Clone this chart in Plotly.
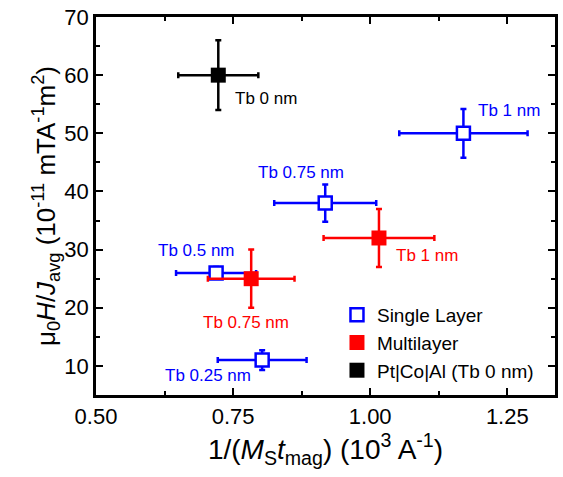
import plotly.graph_objects as go

# Single Layer (blue, open squares)
single_x = [0.803, 0.719, 0.918, 1.170]
single_y = [11.0, 26.0, 38.0, 50.0]
single_xerr = [0.081, 0.073, 0.093, 0.117]
single_yerr = [1.7, 1.0, 3.2, 4.2]
single_labels = ["Tb 0.25 nm", "Tb 0.5 nm", "Tb 0.75 nm", "Tb 1 nm"]

# Multilayer (red, filled squares)
multi_x = [0.783, 1.016]
multi_y = [25.0, 32.0]
multi_xerr = [0.079, 0.101]
multi_yerr = [5.0, 5.0]
multi_labels = ["Tb 0.75 nm", "Tb 1 nm"]

# Pt|Co|Al (black)
ref_x = [0.723]
ref_y = [60.0]
ref_xerr = [0.073]
ref_yerr = [6.0]
ref_labels = ["Tb 0 nm"]

series_names = ["Single Layer", "Multilayer", "Pt|Co|Al (Tb 0 nm)"]
x_ticks = [0.50, 0.75, 1.00, 1.25]
y_ticks = [10, 20, 30, 40, 50, 60, 70]

BLUE = "#0000ff"
RED = "#ff0000"
BLACK = "#000000"
FONT = "Liberation Sans"

fig = go.Figure()

def add_series(xs, ys, xe, ye, color, name, filled):
    fig.add_trace(go.Scatter(
        x=xs, y=ys, mode="markers", name=name,
        marker=dict(symbol="square", size=15 if filled else 13,
                    color=color if filled else "white",
                    line=dict(color=color, width=0 if filled else 2.5)),
        error_x=dict(type="data", array=xe, visible=True, color=color, thickness=2.5, width=3),
        error_y=dict(type="data", array=ye, visible=True, color=color, thickness=2.5, width=3),
    ))

add_series(single_x, single_y, single_xerr, single_yerr, BLUE, series_names[0], False)
add_series(multi_x, multi_y, multi_xerr, multi_yerr, RED, series_names[1], True)
add_series(ref_x, ref_y, ref_xerr, ref_yerr, BLACK, series_names[2], True)

# point labels: offsets in pixels (xshift, yshift)
single_off = [(-54, -15), (-20, 22), (-24, 31), (46, 23)]
multi_off = [(-5, -44), (48, -18)]
ref_off = [(48, -23)]

anns = []
for xs, ys, labs, offs, col in [(single_x, single_y, single_labels, single_off, BLUE),
                                (multi_x, multi_y, multi_labels, multi_off, RED),
                                (ref_x, ref_y, ref_labels, ref_off, BLACK)]:
    for x, y, t, (dx, dy) in zip(xs, ys, labs, offs):
        anns.append(dict(x=x, y=y, xref="x", yref="y", text=t, showarrow=False,
                         xshift=dx, yshift=dy, font=dict(size=17, color=col, family=FONT)))

fig.update_layout(
    width=563, height=477,
    margin=dict(l=96, r=5, t=13, b=82),
    paper_bgcolor="white", plot_bgcolor="white",
    font=dict(family=FONT, color="black"),
    annotations=anns,
    showlegend=True,
    legend=dict(x=0.525, y=0.262, xanchor="left", yanchor="top",
                bgcolor="rgba(0,0,0,0)", font=dict(size=19, family=FONT),
                itemsizing="trace", tracegroupgap=0),
    xaxis=dict(range=[0.5, 1.337], tickvals=x_ticks, ticktext=["%.2f" % v for v in x_ticks],
               ticks="inside", ticklen=7, tickwidth=2, tickcolor="black",
               minor=dict(dtick=0.125, ticks="inside", ticklen=4, tickwidth=2, tickcolor="black"),
               showline=True, linewidth=2.5, linecolor="black", mirror="ticks",
               showgrid=False, zeroline=False, tickfont=dict(size=22, family=FONT),
               title=dict(text="1/(<i>M</i><sub>S</sub><i>t</i><sub>mag</sub>) (10<sup>3</sup> A<sup>-1</sup>)",
                          font=dict(size=28, family=FONT), standoff=6)),
    yaxis=dict(range=[5, 70], tickvals=y_ticks,
               ticks="inside", ticklen=7, tickwidth=2, tickcolor="black",
               minor=dict(dtick=5, ticks="inside", ticklen=4, tickwidth=2, tickcolor="black"),
               showline=True, linewidth=2.5, linecolor="black", mirror="ticks",
               showgrid=False, zeroline=False, tickfont=dict(size=22, family=FONT),
               title=dict(text="μ<sub>0</sub><i>H</i>/<i>J</i><sub>avg</sub> (10<sup>-11</sup> mTA<sup>-1</sup>m<sup>2</sup>)",
                          font=dict(size=26, family=FONT), standoff=2)),
)

fig.write_html("out.html")
